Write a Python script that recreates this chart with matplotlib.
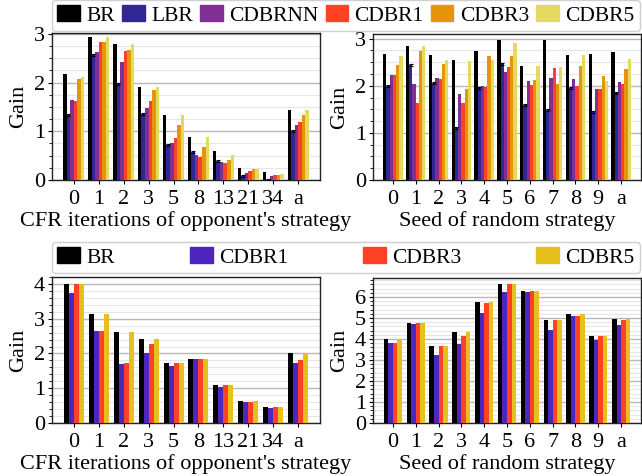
import numpy as np
import matplotlib.pyplot as plt
from matplotlib.ticker import MultipleLocator
from matplotlib.patches import Patch

plt.rcParams['font.family'] = ['Liberation Serif', 'DejaVu Serif']
plt.rcParams['font.size'] = 16

W, H = 642, 476

cfr_labels = ["0", "1", "2", "3", "5", "8", "13", "21", "34", "a"]
seed_labels = ["0", "1", "2", "3", "4", "5", "6", "7", "8", "9", "a"]

top_names = ["BR", "LBR", "CDBRNN", "CDBR1", "CDBR3", "CDBR5"]
bot_names = ["BR", "CDBR1", "CDBR3", "CDBR5"]

# top left: CFR iterations
tl_br = [2.18, 2.94, 2.80, 1.91, 1.34, 0.88, 0.60, 0.24, 0.16, 1.44]
tl_lbr = [1.34, 2.57, 1.97, 1.35, 0.71, 0.58, 0.39, 0.09, 0.01, 1.00]
tl_nn = [1.64, 2.63, 2.43, 1.48, 0.77, 0.52, 0.36, 0.14, 0.075, 1.14]
tl_c1 = [1.62, 2.84, 2.65, 1.62, 0.86, 0.48, 0.34, 0.18, 0.11, 1.19]
tl_c3 = [2.07, 2.84, 2.67, 1.84, 1.14, 0.67, 0.42, 0.22, 0.11, 1.34]
tl_c5 = [2.12, 2.94, 2.80, 1.91, 1.34, 0.88, 0.52, 0.23, 0.12, 1.44]

# top right: random seeds
tr_br = [2.68, 2.85, 2.66, 2.55, 2.73, 2.98, 2.43, 2.98, 2.66, 2.68, 2.72]
tr_lbr = [1.99, 2.45, 2.06, 1.10, 1.95, 2.47, 1.60, 1.48, 1.95, 1.44, 1.85]
tr_nn = [2.24, 2.04, 2.16, 1.82, 2.00, 2.29, 2.10, 2.17, 2.15, 1.93, 2.08]
tr_c1 = [2.23, 1.63, 2.15, 1.63, 1.98, 2.40, 2.02, 2.38, 2.00, 1.93, 2.04]
tr_c3 = [2.45, 2.73, 2.47, 1.93, 2.64, 2.64, 2.13, 2.04, 2.43, 2.21, 2.36]
tr_c5 = [2.64, 2.85, 2.55, 2.53, 2.55, 2.91, 2.42, 2.40, 2.66, 2.10, 2.57]

# bottom left: CFR iterations
bl_br = [4.00, 3.14, 2.63, 2.41, 1.74, 1.85, 1.08, 0.62, 0.45, 2.00]
bl_c1 = [3.75, 2.65, 1.70, 2.00, 1.63, 1.85, 1.05, 0.59, 0.42, 1.74]
bl_c3 = [4.00, 2.65, 1.74, 2.28, 1.74, 1.85, 1.08, 0.59, 0.45, 1.82]
bl_c5 = [4.00, 3.14, 2.63, 2.41, 1.74, 1.85, 1.08, 0.62, 0.45, 2.00]

# bottom right: random seeds
br_br = [4.02, 4.77, 3.65, 4.32, 5.78, 6.62, 6.30, 4.92, 5.17, 4.13, 4.97]
br_c1 = [3.83, 4.73, 3.22, 3.75, 5.22, 6.25, 6.25, 4.41, 5.08, 3.97, 4.68]
br_c3 = [3.79, 4.77, 3.65, 4.13, 5.73, 6.62, 6.30, 4.92, 5.08, 4.13, 4.92]
br_c5 = [4.02, 4.77, 3.65, 4.32, 5.78, 6.62, 6.30, 4.92, 5.17, 4.13, 4.97]


def palette(n):
    return ["black"] + list(plt.cm.CMRmap(np.linspace(0, 1, n + 2)[1:-1]))


def px_axes(fig, left, top, right, bottom):
    return fig.add_axes([left / W, 1 - bottom / H, (right - left) / W, (bottom - top) / H])


def bar_panel(ax, labels, series, colors, ylim, minor, xlabel, total=0.85, err_idx=None):
    n = len(series)
    x = np.arange(len(labels))
    w = total / n
    for i, (vals, c) in enumerate(zip(series, colors)):
        pos = x - total / 2 + w * (i + 0.5)
        ax.bar(pos, vals, width=w, color=c, zorder=3, linewidth=0)
        if i == err_idx:
            ax.errorbar(pos, vals, yerr=0.02, fmt="none", ecolor="black",
                        elinewidth=0.8, capsize=1.5, capthick=0.8, zorder=4)
    ax.set_xticks(x)
    ax.set_xticklabels(labels)
    ax.set_xlim(-0.87, len(labels) - 1 + 0.87)
    ax.set_ylim(*ylim)
    ax.yaxis.set_major_locator(MultipleLocator(1))
    ax.yaxis.set_minor_locator(MultipleLocator(minor))
    ax.grid(True, which="major", axis="y", color="#b8b8b8", lw=1.0, zorder=0)
    ax.grid(True, which="minor", axis="y", color="#e6e6e6", lw=0.8, zorder=0)
    ax.set_axisbelow(True)
    for s in ax.spines.values():
        s.set_color("#222222")
        s.set_linewidth(1.0)
    ax.tick_params(axis="x", length=3, width=0.8, pad=4)
    ax.tick_params(axis="y", which="major", length=3, width=0.8, pad=2)
    ax.tick_params(axis="y", which="minor", length=2, width=0.6)
    ax.set_ylabel("Gain", labelpad=4)
    ax.set_xlabel(xlabel, labelpad=2)


def legend_row(fig, colors, names, top, bottom):
    handles = [Patch(color=c, label=n) for c, n in zip(colors, names)]
    fig.legend(handles=handles, ncol=len(names), mode="expand", loc="lower left",
               bbox_to_anchor=(52 / W, 1 - bottom / H, (640 - 52) / W, (bottom - top) / H),
               fontsize=15.5, handlelength=1.05, handleheight=0.8, handletextpad=0.3,
               columnspacing=0.3, borderpad=0.25, borderaxespad=0, frameon=True,
               fancybox=True, edgecolor="#d0d0d0", framealpha=1)


fig = plt.figure(figsize=(W / 100, H / 100), dpi=100)

top_colors = palette(5)
bot_colors = palette(3)

ax1 = px_axes(fig, 52, 33, 320, 180)
bar_panel(ax1, cfr_labels, [tl_br, tl_lbr, tl_nn, tl_c1, tl_c3, tl_c5], top_colors,
          (0, 3.02), 0.25, "CFR iterations of opponent's strategy", err_idx=1)

ax2 = px_axes(fig, 373, 34, 641, 180)
bar_panel(ax2, seed_labels, [tr_br, tr_lbr, tr_nn, tr_c1, tr_c3, tr_c5], top_colors,
          (0, 3.1), 0.25, "Seed of random strategy", err_idx=1)

ax3 = px_axes(fig, 52, 277, 320, 423)
bar_panel(ax3, cfr_labels, [bl_br, bl_c1, bl_c3, bl_c5], bot_colors,
          (0, 4.2), 0.2, "CFR iterations of opponent's strategy", total=0.8)

ax4 = px_axes(fig, 373, 278, 641, 423)
bar_panel(ax4, seed_labels, [br_br, br_c1, br_c3, br_c5], bot_colors,
          (0, 6.9), 0.2, "Seed of random strategy", total=0.8)

legend_row(fig, top_colors, top_names, 3, 31)
legend_row(fig, bot_colors, bot_names, 244, 273)

fig.savefig("out.png", dpi=100)
